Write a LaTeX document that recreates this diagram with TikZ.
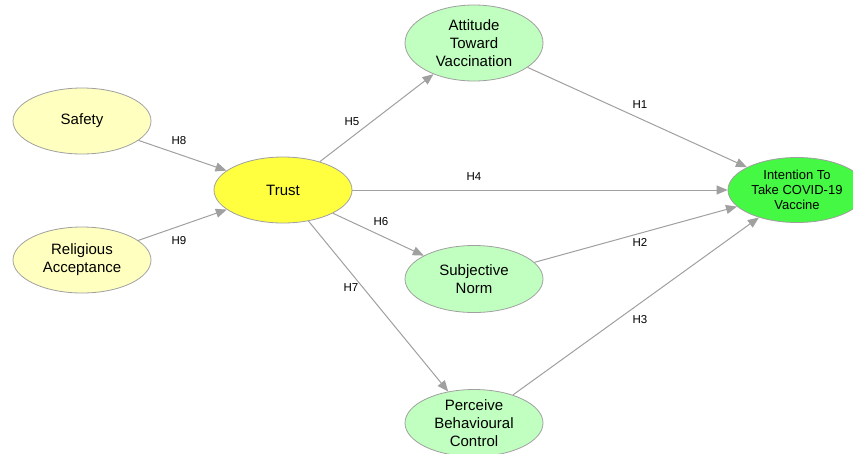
\documentclass[tikz,border=0pt]{standalone}
\usepackage{fontspec}
\setmainfont{Liberation Sans}
\usetikzlibrary{arrows.meta,shapes.geometric}
\definecolor{lyel}{HTML}{FFFFC0}
\definecolor{dyel}{HTML}{FFFF40}
\definecolor{lgrn}{HTML}{C0FFC0}
\definecolor{dgrn}{HTML}{44F844}
\definecolor{edge}{HTML}{A0A0A0}
\tikzset{
  latent/.style={ellipse, draw=edge, line width=0.8pt, minimum width=138pt, minimum height=66pt, inner sep=0pt, align=center, font=\fontsize{15}{18}\selectfont},
  path/.style={draw=edge, line width=1pt, -{Triangle[length=11pt,width=9pt]}},
  hlab/.style={font=\fontsize{11.5}{13}\selectfont, text=black}
}
\begin{document}
\begin{tikzpicture}[x=1pt,y=-1pt]
\useasboundingbox (0,0) rectangle (853,453);
\clip (0,0) rectangle (853,453);
\fill[white] (0,0) rectangle (853,453);
\node[latent, fill=lyel] (saf) at (82,121) {Safety};
\node[latent, fill=lyel] (rel) at (82,260) {Religious\\Acceptance};
\node[latent, fill=dyel] (tru) at (283,190) {Trust};
\node[latent, fill=lgrn, minimum height=76pt] (att) at (474,43) {Attitude\\Toward\\Vaccination};
\node[latent, fill=lgrn, minimum height=67pt] (sub) at (474,279) {Subjective\\Norm};
\node[latent, fill=lgrn, minimum height=67pt] (pbc) at (474,423) {Perceive\\Behavioural\\Control};
\node[latent, fill=dgrn, minimum height=65pt, font=\fontsize{13}{15}\selectfont] (int) at (797,190) {Intention To\\Take COVID-19\\Vaccine};
\draw[path] (saf) -- (tru);
\draw[path] (rel) -- (tru);
\draw[path] (tru) -- (att);
\draw[path] (tru) -- (int);
\draw[path] (tru) -- (sub);
\draw[path] (tru) -- (pbc);
\draw[path] (att) -- (int);
\draw[path] (sub) -- (int);
\draw[path] (pbc) -- (int);
\node[hlab] (h8) at (179,141) {H8};
\node[hlab] (h9) at (179,241) {H9};
\node[hlab] (h5) at (352,122) {H5};
\node[hlab] (h6) at (381,222) {H6};
\node[hlab] (h7) at (351,288) {H7};
\node[hlab] (h4) at (474,177) {H4};
\node[hlab] (h1) at (640,105) {H1};
\node[hlab] (h2) at (640,242) {H2};
\node[hlab] (h3) at (640,320) {H3};
\end{tikzpicture}
\end{document}
